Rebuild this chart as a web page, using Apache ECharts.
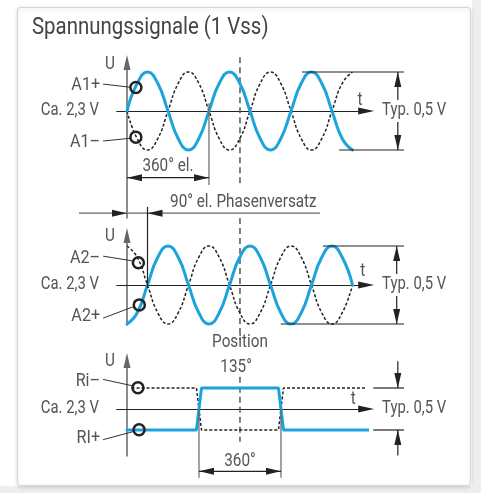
<!DOCTYPE html>
<html>
<head>
<meta charset="utf-8">
<script src="https://cdn.jsdelivr.net/npm/echarts@6/dist/echarts.min.js"></script>
<style>
  html, body { margin: 0; padding: 0; background: #fff; }
  #chart { width: 481px; height: 493px; }
</style>
</head>
<body>
<div id="chart"></div>
<script>
// phase in degrees (el.), sampled every 45°
const phaseDeg = [0, 45, 90, 135, 180, 225, 270, 315, 360, 405, 450, 495, 540, 585, 630, 675, 720, 765, 810, 855, 900, 945, 990];
// incremental signals, normalised to the peak (1 = +0,25 V around 2,3 V)
const a1Plus  = [0, 0.71, 1, 0.71, 0, -0.71, -1, -0.71, 0, 0.71, 1, 0.71, 0, -0.71, -1, -0.71, 0, 0.71, 1, 0.71, 0, -0.71, -1];
const a1Minus = [0, -0.71, -1, -0.71, 0, 0.71, 1, 0.71, 0, -0.71, -1, -0.71, 0, 0.71, 1, 0.71, 0, -0.71, -1, -0.71, 0, 0.71, 1];
const a2Plus  = [-1, -0.71, 0, 0.71, 1, 0.71, 0, -0.71, -1, -0.71, 0, 0.71, 1, 0.71, 0, -0.71, -1, -0.71, 0, 0.71, 1, 0.71, 0];
const a2Minus = [1, 0.71, 0, -0.71, -1, -0.71, 0, 0.71, 1, 0.71, 0, -0.71, -1, -0.71, 0, 0.71, 1, 0.71, 0, -0.71, -1, -0.71, 0];
// reference mark signal
const refPhase  = [0, 305, 327, 665, 687, 1081];
const riPlus    = [-1, -1, 1, 1, -1, -1];
const riMinusPhase = [20, 305, 327, 665, 687, 1081];
const riMinus   = [1, 1, -1, -1, 1, 1];
const positionDeg = 496;

const BLUE = '#1ba3dc';
const INK = '#222';
const GREY = '#555';
const FONT = "Roboto, 'Noto Sans', sans-serif";
const SQUEEZE = 0.85; // condensed look

// layout (pixels)
const X0 = 127, K = 82 / 360;
const XMIN = -45, XMAX = 1050;
const panels = [
  { yc: 111, amp: 39, top: 62.5, bottom: 218 },
  { yc: 285, amp: 39, top: 235.5, bottom: 325 },
  { yc: 409, amp: 21, top: 360.5, bottom: 456 }
];

const zip = (xs, ys) => xs.map((x, i) => [x, ys[i]]);

const chart = echarts.init(document.getElementById('chart'), null, { renderer: 'canvas' });

const grids = panels.map((p) => ({
  left: X0 + XMIN * K, width: (XMAX - XMIN) * K,
  top: p.top, height: p.bottom - p.top
}));
const xAxes = panels.map((p, i) => ({
  type: 'value', gridIndex: i, min: XMIN, max: XMAX,
  axisLine: { show: true, onZero: true, symbol: ['none', 'triangle'], symbolSize: [7, 16], lineStyle: { color: INK, width: 1.2 } },
  axisTick: { show: false }, axisLabel: { show: false }, splitLine: { show: false }
}));
const yAxes = panels.map((p, i) => ({
  type: 'value', gridIndex: i,
  min: -(p.bottom - p.yc) / p.amp, max: (p.yc - p.top) / p.amp,
  axisLine: { show: true, onZero: true, symbol: ['none', 'triangle'], symbolSize: [7, 15], lineStyle: { color: '#666', width: 1.5 } },
  axisTick: { show: false }, axisLabel: { show: false }, splitLine: { show: false }
}));

function curve(i, data, dashed) {
  return {
    type: 'line', xAxisIndex: i, yAxisIndex: i, data: data, clip: false,
    smooth: data.length > 6, symbol: 'none', silent: true, z: dashed ? 3 : 4,
    lineStyle: dashed ? { color: INK, width: 1.5, type: [3, 2] } : { color: BLUE, width: 3, cap: 'round' }
  };
}
function posLine(i, v1, v2) {
  return {
    type: 'line', xAxisIndex: i, yAxisIndex: i, clip: false, symbol: 'none', silent: true, z: 1,
    data: [[positionDeg, v1], [positionDeg, v2]],
    lineStyle: { color: GREY, width: 1.5, type: [6, 4] }
  };
}

chart.setOption({
  animation: false,
  grid: grids, xAxis: xAxes, yAxis: yAxes,
  series: [
    curve(0, zip(phaseDeg, a1Minus), true),
    curve(0, zip(phaseDeg, a1Plus), false),
    curve(1, zip(phaseDeg, a2Minus), true),
    curve(1, zip(phaseDeg, a2Plus), false),
    curve(2, zip(riMinusPhase, riMinus), true),
    curve(2, zip(refPhase, riPlus), false),
    posLine(0, 1.38, -1.95),
    posLine(1, 1.72, -1.41),
    posLine(2, 1.54, -1.56)
  ]
});

// ---- annotations, placed in each panel's data coordinates ----
const P = (i, th, v) => chart.convertToPixel({ gridIndex: i }, [th, v]);
const g = [];

function textAt(x, y, str, opt) {
  g.push({
    type: 'text', z: 20, x: x, y: y, scaleX: SQUEEZE,
    style: Object.assign({ text: str, x: 0, y: 0, fill: GREY, font: '18px ' + FONT, align: 'center', verticalAlign: 'middle' }, opt || {})
  });
}
function text(i, th, v, str, opt) {
  const [x, y] = P(i, th, v);
  textAt(x, y, str, opt);
}
function line(i, th1, v1, th2, v2, opt) {
  const a = P(i, th1, v1), b = P(i, th2, v2);
  g.push({ type: 'line', z: 10, shape: { x1: a[0], y1: a[1], x2: b[0], y2: b[1] },
    style: Object.assign({ stroke: INK, lineWidth: 1.2 }, opt || {}) });
}
function arrow(i, th, v, dx, dy) {
  const [x, y] = P(i, th, v);
  const len = 15, hw = 3.5;
  g.push({ type: 'polygon', z: 11, shape: { points: [
    [x, y],
    [x - dx * len - dy * hw, y - dy * len + dx * hw],
    [x - dx * len + dy * hw, y - dy * len - dx * hw]
  ] }, style: { fill: INK } });
}
function ring(i, th, v) {
  const [x, y] = P(i, th, v);
  g.push({ type: 'circle', z: 12, shape: { cx: x, cy: y, r: 5.5 }, style: { fill: 'none', stroke: INK, lineWidth: 2.5 } });
}
function label(i, v, str, leadFrom, leadTo, circ) {
  text(i, -118, v, str, { align: 'right', font: '19px ' + FONT });
  line(i, leadFrom[0], leadFrom[1], leadTo[0], leadTo[1], { lineWidth: 1, stroke: '#333' });
  ring(i, circ[0], circ[1]);
}
function typ(i) {
  text(i, 1120, 0, 'Typ. 0,5 V', { align: 'left', font: '17.5px ' + FONT, backgroundColor: '#fff', padding: [2, 0, 2, 0] });
}
function level(i) {
  text(i, -123, 0, 'Ca. 2,3 V', { align: 'right', font: '17.5px ' + FONT });
}

// panel 1: A1+ / A1-
text(0, -75, 1.18, 'U');
text(0, 1023, 0.28, 't');
level(0);
label(0, 0.67, 'A1+', [-105, 0.69], [14, 0.61], [39, 0.6]);
label(0, -0.79, 'A1–', [-105, -0.77], [14, -0.7], [39, -0.67]);
line(0, 768, 1, 1216, 1);
line(0, 931, -1, 1216, -1);
line(0, 1189, 1, 1189, -1);
arrow(0, 1189, 1, 0, -1);
arrow(0, 1189, -1, 0, 1);
typ(0);
line(0, 360, 0.2, 360, -1.9, { stroke: '#666' });
line(0, 0, -1.71, 360, -1.71);
arrow(0, 0, -1.71, -1, 0);
arrow(0, 360, -1.71, 1, 0);
text(0, 180, -1.43, '360° el.');
line(0, -211, -2.62, 847, -2.62, { stroke: '#666' });
arrow(0, 0, -2.62, 1, 0);
arrow(0, 90, -2.62, -1, 0);
line(0, 90, -2.46, 90, -4.54);
text(0, 189, -2.35, '90° el. Phasenversatz', { align: 'left' });

// panel 2: A2- / A2+
text(1, -75, 1.24, 'U');
text(1, 1035, 0.34, 't');
level(1);
label(1, 0.69, 'A2–', [-105, 0.74], [22, 0.62], [50, 0.57]);
label(1, -0.79, 'A2+', [-105, -0.85], [26, -0.56], [54, -0.51]);
line(1, 860, 1, 1216, 1);
line(1, 675, -1, 1216, -1);
line(1, 1184, 1, 1184, -1);
arrow(1, 1184, 1, 0, -1);
arrow(1, 1184, -1, 0, 1);
typ(1);

// panel 3: reference mark
text(2, -75, 2.27, 'U');
text(2, 993, 0.44, 't');
level(2);
label(2, 1.31, 'Ri–', [-105, 1.41], [22, 1.11], [48, 1.01]);
label(2, -1.38, 'RI+', [-105, -1.46], [26, -1.08], [53, -0.99]);
text(2, positionDeg, 3.16, 'Position');
text(2, 479, 1.97, '135°');
line(2, 1081, 1, 1216, 1);
line(2, 1081, -1, 1216, -1);
line(2, 1189, 2.27, 1189, 1);
line(2, 1189, -2.22, 1189, -1);
arrow(2, 1189, 1, 0, 1);
arrow(2, 1189, -1, 0, -1);
typ(2);
line(2, 316, 0, 316, -3.27, { stroke: '#666' });
line(2, 676, 0, 676, -3.27, { stroke: '#666' });
line(2, 316, -2.97, 676, -2.97);
arrow(2, 316, -2.97, -1, 0);
arrow(2, 676, -2.97, 1, 0);
text(2, positionDeg, -2.5, '360°');

// card + title
g.push({ type: 'rect', z: -20, shape: { x: 472, y: 0, width: 9, height: 493 }, style: { fill: '#eeeeee' } });
g.push({ type: 'rect', z: -20, shape: { x: 0, y: 486, width: 481, height: 7 }, style: { fill: '#eeeeee' } });
g.push({ type: 'rect', z: -10, shape: { x: 17.5, y: 7.5, width: 453, height: 478, r: 3 },
  style: { fill: '#fff', stroke: '#d6d6d6', lineWidth: 1, shadowBlur: 4, shadowColor: 'rgba(0,0,0,0.15)', shadowOffsetY: 1 } });
textAt(32, 28, 'Spannungssignale (1 Vss)', { fill: '#444', font: '24px ' + FONT, align: 'left' });

chart.setOption({ graphic: { elements: g } });
</script>
</body>
</html>
